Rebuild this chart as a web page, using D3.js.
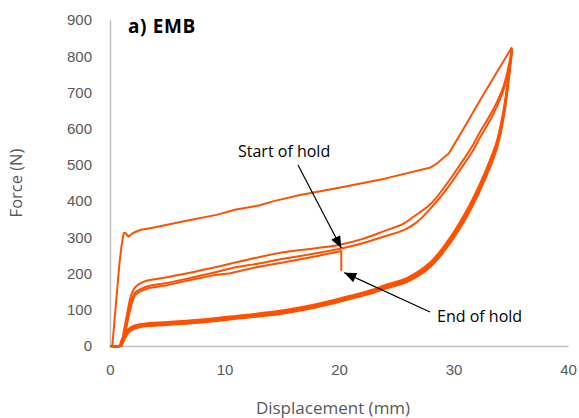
<!DOCTYPE html>
<html>
<head>
<meta charset="utf-8">
<script src="https://cdn.jsdelivr.net/npm/d3@7"></script>
<style>
  body { margin: 0; background: #fff; }
  svg { display: block; font-family: "Open Sans", "Noto Sans", sans-serif; }
</style>
</head>
<body>
<svg id="chart" width="579" height="418"></svg>
<script>
// axis ticks
const xTicks = [0, 10, 20, 30, 40];
const yTicks = [0, 100, 200, 300, 400, 500, 600, 700, 800, 900];

// first loading cycle (top curve)
const load1X = [0, 0.2, 0.5, 0.8, 1.0, 1.2, 1.35, 1.6, 2.0, 2.7, 3.5, 5, 7, 9.3, 11, 13, 14.3, 16.6, 20, 24, 28, 28.6, 29.6, 30.9, 32.5, 35.1];
const load1F = [0, 0, 110, 220, 275, 312, 312, 302, 312, 321, 325, 335, 348, 362, 377, 388, 400, 417, 437, 462, 493, 505, 532, 601, 688, 825];

// later loading cycles (middle group)
const load2X = [0, 0.9, 1.2, 1.5, 1.8, 2.1, 2.5, 3.2, 5, 7, 9, 10.5, 13, 15, 18, 20, 22, 24, 25.6, 26.5, 28, 29.4, 30.5, 31.7, 32.3, 33.5, 34.4, 35.1];
const load2F = [0, 0, 40, 90, 135, 158, 170, 180, 190, 202, 216, 227, 245, 258, 270, 279, 295, 318, 337, 357, 392, 447, 497, 555, 590, 655, 720, 818];
const load3X = [0, 0.95, 1.25, 1.55, 1.85, 2.15, 2.6, 3.3, 5, 7, 9, 10.5, 13, 15, 18, 20, 22, 24, 25.8, 26.8, 28, 29.4, 30.5, 31.7, 32.3, 33.5, 34.4, 35.1];
const load3F = [0, 0, 32, 80, 122, 146, 156, 165, 174, 188, 202, 214, 228, 240, 256, 268, 283, 303, 322, 342, 380, 433, 483, 540, 575, 642, 710, 815];

// loading cycle with the hold at 20 mm
const holdX = [0, 1.0, 1.3, 1.6, 1.9, 2.2, 2.7, 3.4, 5, 7, 9, 10.5, 13, 15, 18, 20.2, 20.2];
const holdF = [0, 0, 30, 78, 118, 142, 152, 160, 168, 182, 195, 201, 219, 230, 248, 262, 208];

// unloading curves (bottom band)
const unloadX = [35.1, 34.4, 33.8, 33.3, 32.3, 31, 29.5, 28, 26, 24, 23, 21, 19, 17, 15, 11, 8, 5, 3.3, 2.6, 2.0, 1.6, 1.3, 1.0, 0.8, 0];
const unload1F = [822, 650, 560, 515, 440, 360, 285, 228, 185, 165, 153, 136, 120, 106, 95, 80, 70, 63, 60, 57, 52, 44, 32, 12, 0, 0];
const unload2F = [816, 641, 552, 508, 433, 353, 279, 223, 181, 161, 150, 133, 117, 103, 92, 77, 67, 60, 57, 54, 49, 40, 27, 8, 0, 0];
const unload3F = [812, 634, 546, 502, 428, 348, 275, 219, 178, 158, 147, 130, 114, 100, 89, 75, 65, 58, 55, 52, 46, 36, 20, 3, 0, 0];
const unload4F = [820, 657, 567, 522, 447, 366, 290, 232, 189, 168, 156, 139, 123, 109, 98, 83, 73, 66, 63, 60, 55, 47, 36, 16, 0, 0];

const LINE_COLOR = "#ff5100";
const AXIS_COLOR = "#bfbfbf";
const TEXT_COLOR = "#595959";

const margin = { top: 20, right: 11, bottom: 72, left: 110 };
const W = 579, H = 418;

const svg = d3.select("#chart");

const x = d3.scaleLinear().domain([0, 40]).range([margin.left, W - margin.right]);
const y = d3.scaleLinear().domain([0, 900]).range([H - margin.bottom, margin.top]);

// axes
const xAxis = svg.append("g")
  .attr("transform", `translate(0, ${y(0)})`)
  .call(d3.axisBottom(x).tickValues(xTicks).tickSize(0).tickPadding(18));

const yAxis = svg.append("g")
  .attr("transform", `translate(${x(0)}, 0)`)
  .call(d3.axisLeft(y).tickValues(yTicks).tickSize(0).tickPadding(18));

[xAxis, yAxis].forEach(a => {
  a.select(".domain").attr("stroke", AXIS_COLOR).attr("stroke-width", 1.5);
  a.selectAll("text").attr("fill", TEXT_COLOR).style("font-size", "15px");
});

// curves
const toPoints = (xs, fs) => xs.map((d, i) => [d, fs[i]]);
const smooth = d3.curveCatmullRom.alpha(0.5);
const curves = [
  { pts: toPoints(unloadX, unload3F), curve: smooth },
  { pts: toPoints(unloadX, unload2F), curve: smooth },
  { pts: toPoints(unloadX, unload1F), curve: smooth },
  { pts: toPoints(unloadX, unload4F), curve: smooth },
  { pts: toPoints(holdX, holdF), curve: d3.curveLinear },
  { pts: toPoints(load3X, load3F), curve: smooth },
  { pts: toPoints(load2X, load2F), curve: smooth },
  { pts: toPoints(load1X, load1F), curve: d3.curveLinear }
];

svg.append("g")
  .selectAll("path")
  .data(curves)
  .join("path")
  .attr("fill", "none")
  .attr("stroke", LINE_COLOR)
  .attr("stroke-width", 2)
  .attr("stroke-linejoin", "round")
  .attr("d", c => d3.line().x(d => x(d[0])).y(d => y(d[1])).curve(c.curve)(c.pts));

// axis titles
svg.append("text")
  .attr("transform", `translate(22, ${(y(0) + y(900)) / 2}) rotate(-90)`)
  .attr("text-anchor", "middle")
  .attr("fill", TEXT_COLOR)
  .style("font-size", "16.5px")
  .text("Force (N)");

svg.append("text")
  .attr("x", 333)
  .attr("y", 414)
  .attr("text-anchor", "middle")
  .attr("fill", TEXT_COLOR)
  .style("font-size", "17px")
  .text("Displacement (mm)");

svg.append("text")
  .attr("x", 128)
  .attr("y", 33)
  .attr("fill", "#000")
  .style("font-size", "19px")
  .style("letter-spacing", "0.6px")
  .style("font-weight", "bold")
  .text("a) EMB");

// hold annotations
svg.append("defs").append("marker")
  .attr("id", "arrow")
  .attr("viewBox", "0 0 12 10")
  .attr("refX", 12)
  .attr("refY", 5)
  .attr("markerWidth", 13)
  .attr("markerHeight", 10)
  .attr("markerUnits", "userSpaceOnUse")
  .attr("orient", "auto")
  .append("path")
  .attr("d", "M0,0 L12,5 L0,10 Z")
  .attr("fill", "#000");

const holdStart = [holdX[holdX.length - 2], holdF[holdF.length - 2]];
const holdEnd = [holdX[holdX.length - 1], holdF[holdF.length - 1]];

svg.append("line")
  .attr("x1", 298).attr("y1", 165)
  .attr("x2", x(holdStart[0])).attr("y2", y(holdStart[1]) - 3)
  .attr("stroke", "#000").attr("stroke-width", 1.2)
  .attr("marker-end", "url(#arrow)");

svg.append("line")
  .attr("x1", 430).attr("y1", 312)
  .attr("x2", x(holdEnd[0]) + 3).attr("y2", y(holdEnd[1]) + 2)
  .attr("stroke", "#000").attr("stroke-width", 1.2)
  .attr("marker-end", "url(#arrow)");

svg.append("text")
  .attr("x", 238).attr("y", 157)
  .attr("fill", "#000")
  .style("font-size", "16px")
  .text("Start of hold");

svg.append("text")
  .attr("x", 437).attr("y", 322)
  .attr("fill", "#000")
  .style("font-size", "16px")
  .text("End of hold");
</script>
</body>
</html>
